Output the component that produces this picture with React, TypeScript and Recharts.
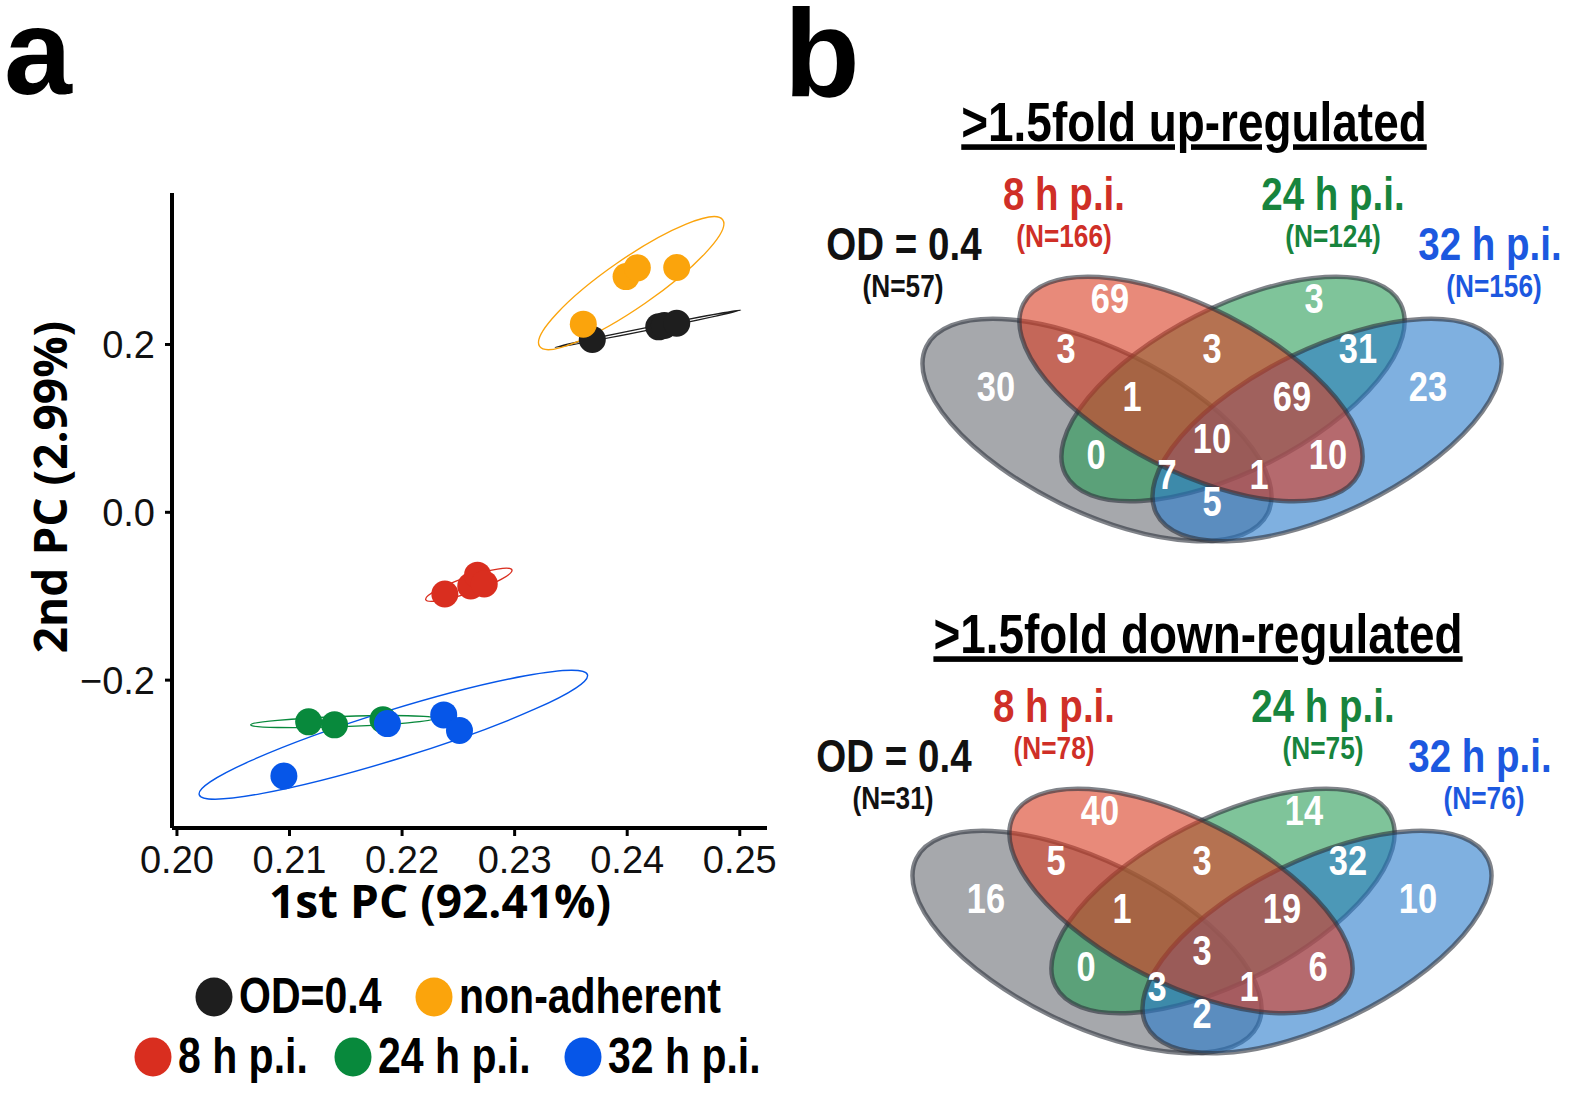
import React from "react";
import { ScatterChart, Scatter, XAxis, YAxis } from "recharts";

const SANS = "'Liberation Sans', Arial, Helvetica, sans-serif";
const TITLE_FONT = "'Open Sans', 'Noto Sans', sans-serif";
const NARROW_SCALE = 0.82; // Arial Narrow look from Liberation Sans bold

// ---- panel a: PCA scores ----
const odPC1 = [0.2369, 0.2428, 0.2433, 0.2444];
const odPC2 = [0.206, 0.221, 0.2226, 0.2252];
const nonAdhPC1 = [0.2361, 0.2399, 0.2409, 0.2444];
const nonAdhPC2 = [0.2242, 0.2809, 0.2913, 0.2918];
const h8PC1 = [0.2238, 0.2261, 0.2267, 0.2273];
const h8PC2 = [-0.0973, -0.0879, -0.0749, -0.0853];
const h24PC1 = [0.2117, 0.214, 0.2183];
const h24PC2 = [-0.2497, -0.2533, -0.2471];
const h32PC1 = [0.2095, 0.2187, 0.2237, 0.2251];
const h32PC2 = [-0.3142, -0.2518, -0.2414, -0.2601];

// confidence ellipses: ends of the major axis [x1, y1, x2, y2] and minor/major ratio
const odEllipse = [0.23361, 0.19662, 0.25008, 0.24083, 0.015];
const nonAdhEllipse = [0.23222, 0.19766, 0.24849, 0.3485, 0.22];
const h8Ellipse = [0.2221, -0.10403, 0.22976, -0.06866, 0.17];
const h24Ellipse = [0.20655, -0.25332, 0.2229, -0.24551, 0.055];
const h32Ellipse = [0.20198, -0.33654, 0.23647, -0.1935, 0.12];

const groupNames = ["OD=0.4", "non-adherent", "8 h p.i.", "24 h p.i.", "32 h p.i."];
const xTicks = [0.2, 0.21, 0.22, 0.23, 0.24, 0.25];
const yTicks = [-0.2, 0, 0.2];

// ---- panel b: Venn counts ----
const setNames = ["OD = 0.4", "8 h p.i.", "24 h p.i.", "32 h p.i."];
const upTotals = [57, 166, 124, 156];
const downTotals = [31, 78, 75, 76];
const regionKeys = ["A", "B", "C", "D", "AB", "BC", "CD", "ABC", "BCD", "ABCD", "AC", "BD", "ACD", "ABD", "AD"];
const upCounts = [30, 69, 3, 23, 3, 3, 31, 1, 69, 10, 0, 10, 7, 1, 5];
const downCounts = [16, 40, 14, 10, 5, 3, 32, 1, 19, 3, 0, 6, 3, 1, 2];

const groupColors = ["#1e1e1e", "#fba40c", "#d92e1f", "#08893c", "#0656e8"];

// pca chart geometry
const X_DOMAIN: [number, number] = [0.19956, 0.25242];
const Y_DOMAIN: [number, number] = [-0.3762, 0.3805];
const PCA_W = 800;
const PCA_H = 900;
const PCA_MARGIN = { top: 193, right: 33, bottom: 22, left: 112 };
const Y_AXIS_W = 60;
const X_AXIS_H = 50;
const PLOT_W = PCA_W - PCA_MARGIN.left - PCA_MARGIN.right - Y_AXIS_W;
const PLOT_H = PCA_H - PCA_MARGIN.top - PCA_MARGIN.bottom - X_AXIS_H;
const PX_PER_X = PLOT_W / (X_DOMAIN[1] - X_DOMAIN[0]);
const PX_PER_Y = PLOT_H / (Y_DOMAIN[1] - Y_DOMAIN[0]);

const pcaSeries = [
  { name: groupNames[0], xs: odPC1, ys: odPC2, ell: odEllipse, color: groupColors[0] },
  { name: groupNames[1], xs: nonAdhPC1, ys: nonAdhPC2, ell: nonAdhEllipse, color: groupColors[1] },
  { name: groupNames[2], xs: h8PC1, ys: h8PC2, ell: h8Ellipse, color: groupColors[2] },
  { name: groupNames[3], xs: h24PC1, ys: h24PC2, ell: h24Ellipse, color: groupColors[3] },
  { name: groupNames[4], xs: h32PC1, ys: h32PC2, ell: h32Ellipse, color: groupColors[4] },
];

const ellipseData = pcaSeries.map((s) => ({
  x: (s.ell[0] + s.ell[2]) / 2,
  y: (s.ell[1] + s.ell[3]) / 2,
  x1: s.ell[0],
  y1: s.ell[1],
  x2: s.ell[2],
  y2: s.ell[3],
  ratio: s.ell[4],
  color: s.color,
}));

const PcaEllipse = (props: any) => {
  const { cx, cy, payload } = props;
  const dx = ((payload.x2 - payload.x1) / 2) * PX_PER_X;
  const dy = (-(payload.y2 - payload.y1) / 2) * PX_PER_Y;
  const a = Math.hypot(dx, dy);
  const ang = (Math.atan2(dy, dx) * 180) / Math.PI;
  return (
    <ellipse
      cx={cx}
      cy={cy}
      rx={a}
      ry={Math.max(a * payload.ratio, 1.2)}
      transform={`rotate(${ang} ${cx} ${cy})`}
      fill="none"
      stroke={payload.color}
      strokeWidth={1.4}
    />
  );
};

const fmtY = (v: number) => v.toFixed(1).replace("-", "\u2212");
const fmtX = (v: number) => v.toFixed(2);

function PcaChart() {
  return (
    <ScatterChart width={PCA_W} height={PCA_H} margin={PCA_MARGIN}>
      <XAxis
        type="number"
        dataKey="x"
        domain={X_DOMAIN}
        ticks={xTicks}
        allowDataOverflow
        height={X_AXIS_H}
        tickFormatter={fmtX}
        axisLine={{ stroke: "#000", strokeWidth: 4 }}
        tickLine={{ stroke: "#000", strokeWidth: 3 }}
        tickSize={8}
        tickMargin={10}
        tick={{ fill: "#111", fontSize: 38, fontFamily: SANS }}
      />
      <YAxis
        type="number"
        dataKey="y"
        domain={Y_DOMAIN}
        ticks={yTicks}
        allowDataOverflow
        width={Y_AXIS_W}
        tickFormatter={fmtY}
        axisLine={{ stroke: "#000", strokeWidth: 4 }}
        tickLine={{ stroke: "#000", strokeWidth: 3 }}
        tickSize={7}
        tickMargin={10}
        tick={{ fill: "#111", fontSize: 38, fontFamily: SANS }}
      />
      <Scatter data={ellipseData} shape={PcaEllipse} isAnimationActive={false} />
      {pcaSeries.map((s) => (
        <Scatter
          key={s.name}
          name={s.name}
          data={s.xs.map((x, i) => ({ x, y: s.ys[i] }))}
          shape={(p: any) => <circle cx={p.cx} cy={p.cy} r={13.5} fill={s.color} />}
          isAnimationActive={false}
        />
      ))}
    </ScatterChart>
  );
}

// bold condensed text (Arial Narrow look)
function NarrowText({
  x,
  y,
  size,
  fill = "#000",
  anchor = "middle",
  dy,
  underline,
  children,
}: {
  x: number;
  y: number;
  size: number;
  fill?: string;
  anchor?: string;
  dy?: string;
  underline?: boolean;
  children: React.ReactNode;
}) {
  return (
    <text
      transform={`translate(${x} ${y}) scale(${NARROW_SCALE} 1)`}
      dy={dy}
      textAnchor={anchor}
      fontSize={size}
      fontWeight="bold"
      fontFamily={SANS}
      fill={fill}
      style={underline ? { textDecoration: "underline" } : undefined}
    >
      {children}
    </text>
  );
}

// ---- venn layout (local pixel units, same template for both diagrams) ----
const VENN_W = 740;
const VENN_H = 480;
// drawing order: OD (gray), 24 h (green), 32 h (blue), 8 h (red) on top
const vennShapes = [
  { x: 277, y: 350, rx: 190, ry: 82, angle: 26, fill: "#6b6e75" },
  { x: 413, y: 309, rx: 188, ry: 82, angle: -27, fill: "#2a9d57" },
  { x: 507, y: 350, rx: 190, ry: 82, angle: -26, fill: "#2a7bcb" },
  { x: 371, y: 309, rx: 188, ry: 82, angle: 27, fill: "#d93c21" },
];
const regionAnchors: Record<string, [number, number]> = {
  A: [176, 306],
  B: [290, 218],
  C: [494, 218],
  D: [608, 306],
  AB: [246, 268],
  BC: [392, 268],
  CD: [538, 268],
  ABC: [312, 316],
  BCD: [472, 316],
  ABCD: [392, 358],
  AC: [276, 374],
  BD: [508, 374],
  ACD: [347, 394],
  ABD: [439, 394],
  AD: [392, 421],
};
const setLabelPos = [
  { name: [84, 180], n: [83, 217], color: "#111" },
  { name: [244, 130], n: [244, 167], color: "#cf2f27" },
  { name: [513, 130], n: [513, 167], color: "#17843d" },
  { name: [670, 180], n: [674, 217], color: "#1c58df" },
];

const VennEllipse = (props: any) => {
  const { cx, cy, payload } = props;
  return (
    <ellipse
      cx={cx}
      cy={cy}
      rx={payload.rx}
      ry={payload.ry}
      transform={`rotate(${payload.angle} ${cx} ${cy})`}
      fill={payload.fill}
      fillOpacity={0.6}
      stroke="#2b313b"
      strokeOpacity={0.6}
      strokeWidth={4.5}
    />
  );
};

const CountLabel = (props: any) => {
  const { cx, cy, payload } = props;
  return (
    <NarrowText x={cx} y={cy} dy="0.36em" size={42} fill="#fff">
      {payload.value}
    </NarrowText>
  );
};

function VennChart({
  title,
  titleX,
  counts,
  totals,
  left,
  top,
}: {
  title: string;
  titleX: number;
  counts: number[];
  totals: number[];
  left: number;
  top: number;
}) {
  const regions = regionKeys.map((k, i) => ({
    x: regionAnchors[k][0],
    y: regionAnchors[k][1],
    value: counts[i],
  }));
  return (
    <div style={{ position: "absolute", left, top, width: VENN_W, height: VENN_H }}>
      <ScatterChart width={VENN_W} height={VENN_H} margin={{ top: 0, right: 0, bottom: 0, left: 0 }}>
        <XAxis type="number" dataKey="x" domain={[0, VENN_W]} hide />
        <YAxis type="number" dataKey="y" domain={[0, VENN_H]} reversed hide />
        <Scatter data={vennShapes} shape={VennEllipse} isAnimationActive={false} />
        <Scatter data={regions} shape={CountLabel} isAnimationActive={false} />
      </ScatterChart>
      <svg
        width={VENN_W}
        height={VENN_H}
        style={{ position: "absolute", left: 0, top: 0, pointerEvents: "none", overflow: "visible" }}
      >
        <NarrowText x={titleX} y={61} size={56} underline>
          {title}
        </NarrowText>
        {setNames.map((nm, i) => (
          <g key={nm}>
            <NarrowText x={setLabelPos[i].name[0]} y={setLabelPos[i].name[1]} size={47} fill={setLabelPos[i].color}>
              {nm}
            </NarrowText>
            <NarrowText x={setLabelPos[i].n[0]} y={setLabelPos[i].n[1]} size={32} fill={setLabelPos[i].color}>
              {`(N=${totals[i]})`}
            </NarrowText>
          </g>
        ))}
      </svg>
    </div>
  );
}

const legendItems = [
  { g: 0, cx: 214, cy: 997 },
  { g: 1, cx: 434, cy: 997 },
  { g: 2, cx: 153, cy: 1057 },
  { g: 3, cx: 353, cy: 1057 },
  { g: 4, cx: 583, cy: 1057 },
];

export default function App() {
  return (
    <div
      style={{
        position: "absolute",
        left: 0,
        top: 0,
        width: 1575,
        height: 1095,
        background: "#fff",
        overflow: "hidden",
      }}
    >
      <div style={{ position: "absolute", left: 0, top: 0 }}>
        <PcaChart />
      </div>
      <VennChart
        title=">1.5fold up-regulated"
        titleX={374}
        counts={upCounts}
        totals={upTotals}
        left={820}
        top={80}
      />
      <VennChart
        title=">1.5fold down-regulated"
        titleX={388}
        counts={downCounts}
        totals={downTotals}
        left={810}
        top={592}
      />
      <svg
        width={1575}
        height={1095}
        style={{ position: "absolute", left: 0, top: 0, pointerEvents: "none" }}
      >
        <text x={4} y={94} fontSize={122} fontWeight="bold" fontFamily={SANS}>
          a
        </text>
        <text x={784} y={96} fontSize={124} fontWeight="bold" fontFamily={SANS}>
          b
        </text>
        <text
          x={440}
          y={918}
          textAnchor="middle"
          fontSize={46}
          fontWeight="bold"
          fontFamily={TITLE_FONT}
        >
          1st PC (92.41%)
        </text>
        <text
          transform="translate(67 487) rotate(-90)"
          textAnchor="middle"
          fontSize={46}
          fontWeight="bold"
          fontFamily={TITLE_FONT}
        >
          2nd PC (2.99%)
        </text>
        {legendItems.map((it) => (
          <g key={it.g}>
            <ellipse cx={it.cx} cy={it.cy} rx={18.5} ry={19.5} fill={groupColors[it.g]} />
            <NarrowText x={it.cx + 25} y={it.cy + 16} size={50} anchor="start">
              {groupNames[it.g]}
            </NarrowText>
          </g>
        ))}
      </svg>
    </div>
  );
}
